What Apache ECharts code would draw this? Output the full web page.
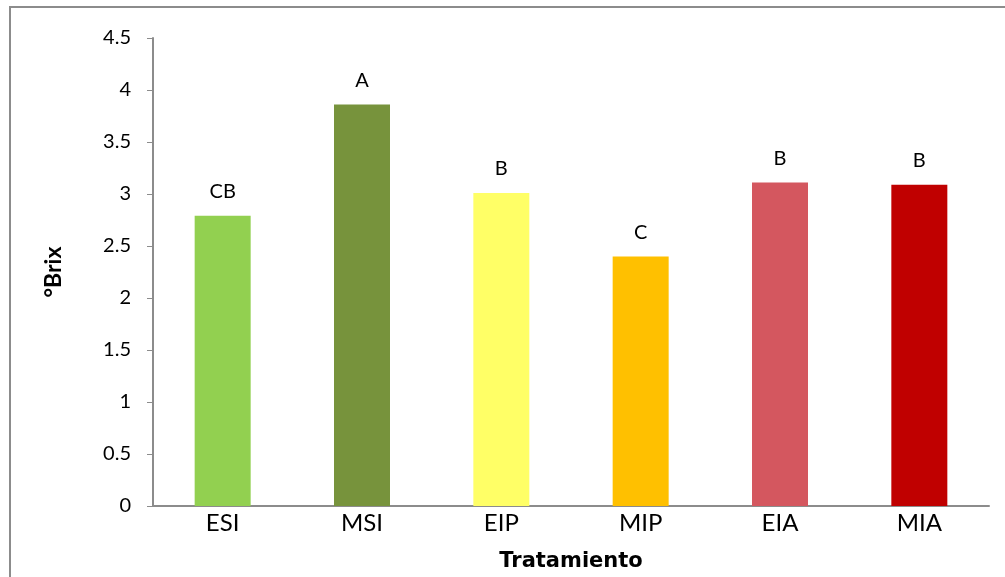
<!DOCTYPE html>
<html>
<head>
<meta charset="utf-8">
<script src="https://cdn.jsdelivr.net/npm/echarts@6/dist/echarts.min.js"></script>
<style>
  html, body { margin: 0; padding: 0; background: #fff; }
  #chart { width: 1005px; height: 577px; }
</style>
</head>
<body>
<div id="chart"></div>
<script>
// datos
const categories = ["ESI", "MSI", "EIP", "MIP", "EIA", "MIA"];
const brixValues = [2.79, 3.86, 3.01, 2.40, 3.11, 3.09];
const letters = ["CB", "A", "B", "C", "B", "B"];
const barColors = ["#92D050", "#77933C", "#FFFF66", "#FFC000", "#D4575F", "#C00000"];
const yTicks = [0, 0.5, 1, 1.5, 2, 2.5, 3, 3.5, 4, 4.5];

const chart = echarts.init(document.getElementById("chart"));

const option = {
    animation: false,
    backgroundColor: "#fff",
    graphic: [
        {
            type: "rect",
            shape: { x: 10, y: 7, width: 1010, height: 600 },
            style: { fill: "none", stroke: "#8c8c8c", lineWidth: 2 },
        },
    ],
    grid: { left: 153, right: 16, top: 38, bottom: 71 },
    xAxis: {
        type: "category",
        data: categories,
        name: "Tratamiento",
        nameLocation: "middle",
        nameGap: 45,
        nameTextStyle: { fontFamily: "DejaVu Sans", fontWeight: "bold", fontSize: 21, color: "#000" },
        axisLine: { lineStyle: { color: "#8c8c8c", width: 2 } },
        axisTick: { show: false },
        axisLabel: { fontFamily: "Lato", fontSize: 24, color: "#000", margin: 5 },
    },
    yAxis: {
        type: "value",
        min: 0,
        max: yTicks[yTicks.length - 1],
        interval: 0.5,
        name: "°Brix",
        nameLocation: "middle",
        nameGap: 88,
        nameTextStyle: { fontFamily: "Lato", fontWeight: "bold", fontSize: 23, color: "#000" },
        axisLine: { show: true, lineStyle: { color: "#8c8c8c", width: 2 } },
        axisTick: { show: true, length: 6, lineStyle: { color: "#8c8c8c" } },
        axisLabel: { fontFamily: "Lato", fontSize: 20, color: "#000", margin: 22 },
        splitLine: { show: false },
    },
    series: [
        {
            type: "bar",
            barWidth: 56,
            data: brixValues.map((v, i) => ({
                value: v,
                itemStyle: { color: barColors[i] },
            })),
            label: {
                show: true,
                position: "top",
                distance: 14,
                fontFamily: "Lato",
                fontSize: 20,
                color: "#000",
                formatter: (p) => letters[p.dataIndex],
            },
        },
    ],
};

chart.setOption(option);
</script>
</body>
</html>
